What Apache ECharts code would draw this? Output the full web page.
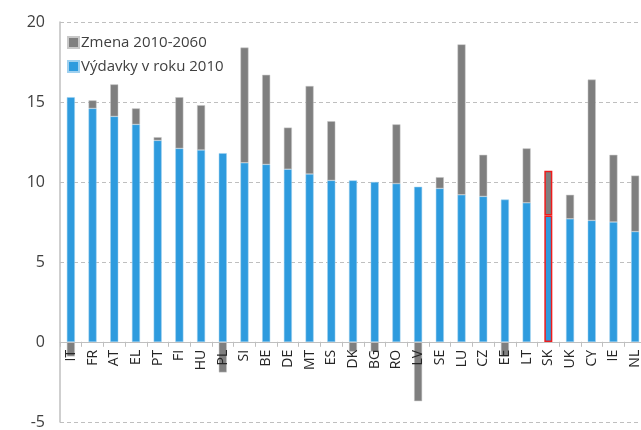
<!DOCTYPE html>
<html>
<head>
<meta charset="utf-8">
<script src="https://cdn.jsdelivr.net/npm/echarts@6/dist/echarts.min.js"></script>
<style>
  html, body { margin: 0; padding: 0; background: #fff; }
  #chart { width: 641px; height: 430px; }
</style>
</head>
<body>
<div id="chart"></div>
<script>
// krajiny
const countries = ['IT', 'FR', 'AT', 'EL', 'PT', 'FI', 'HU', 'PL', 'SI', 'BE', 'DE', 'MT', 'ES', 'DK',
  'BG', 'RO', 'LV', 'SE', 'LU', 'CZ', 'EE', 'LT', 'SK', 'UK', 'CY', 'IE', 'NL']
// výdavky v roku 2010 (% HDP)
const spending2010 = [15.3, 14.6, 14.1, 13.6, 12.6, 12.1, 12.0, 11.8, 11.2, 11.1, 10.8, 10.5, 10.1, 10.1,
  10.0, 9.9, 9.7, 9.6, 9.2, 9.1, 8.9, 8.7, 7.9, 7.7, 7.6, 7.5, 6.9]
// zmena 2010-2060
const change = [-0.9, 0.5, 2.0, 1.0, 0.2, 3.2, 2.8, -1.9, 7.2, 5.6, 2.6, 5.5, 3.7, -0.6,
  -0.6, 3.7, -3.7, 0.7, 9.4, 2.6, -0.9, 3.4, 2.8, 1.5, 8.8, 4.2, 3.5]
const yTicks = [-5, 0, 5, 10, 15, 20]
const highlight = 'SK'

const font = 'Open Sans, Liberation Sans, sans-serif'

const gridTop = 22
const gridBottom = 7
const gridHeight = 430 - gridTop - gridBottom
// posun osi x na nulu
const zeroOffset = -gridHeight * (0 - yTicks[0]) / (yTicks[yTicks.length - 1] - yTicks[0])

const mark = (vals) => vals.map((v, i) => countries[i] === highlight
  ? { value: v, itemStyle: { borderColor: '#ee1c1c', borderWidth: 1.5 } }
  : v)

const chart = echarts.init(document.getElementById('chart'))
chart.setOption({
  animation: false,
  textStyle: { fontFamily: font },
  grid: {
    left: 60, right: -5, top: gridTop, bottom: gridBottom,
    outerBounds: { left: 0, top: 0, right: -6, bottom: 0 }
  },
  legend: {
    orient: 'vertical',
    left: 62,
    top: 30,
    itemWidth: 11,
    itemHeight: 11,
    itemGap: 9,
    icon: 'rect',
    data: ['Zmena 2010-2060', 'Výdavky v roku 2010'],
    textStyle: { fontSize: 15, color: '#404040', fontFamily: font, padding: [0, 0, 0, -3] }
  },
  xAxis: {
    type: 'category',
    data: countries,
    position: 'bottom',
    offset: zeroOffset,
    z: 5,
    axisLine: { onZero: false, lineStyle: { color: '#bfbfbf', width: 1 } },
    axisTick: { show: true, length: 5, lineStyle: { color: '#bfbfbf' } },
    axisLabel: { rotate: 90, fontSize: 14, color: '#262626', margin: 8, interval: 0 }
  },
  yAxis: {
    type: 'value',
    min: yTicks[0],
    max: yTicks[yTicks.length - 1],
    interval: 5,
    axisLine: { show: true, lineStyle: { color: '#bfbfbf', width: 1.5 } },
    axisTick: { show: false },
    axisLabel: { fontSize: 16, color: '#404040', margin: 15 },
    splitLine: { lineStyle: { color: '#bfbfbf', type: [4, 3] } }
  },
  series: [
    {
      name: 'Výdavky v roku 2010',
      type: 'bar',
      stack: 'total',
      barWidth: 8,
      itemStyle: { color: '#2e9bde', borderColor: '#9fd0ef', borderWidth: 0.5 },
      data: mark(spending2010)
    },
    {
      name: 'Zmena 2010-2060',
      type: 'bar',
      stack: 'total',
      barWidth: 8,
      itemStyle: { color: '#7f7f7f', borderColor: '#c8c8c8', borderWidth: 0.5 },
      data: mark(change)
    }
  ]
})
</script>
</body>
</html>
